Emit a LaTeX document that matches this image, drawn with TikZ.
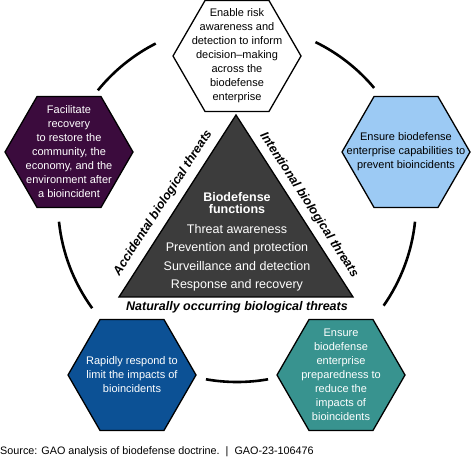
\documentclass[tikz,border=0pt]{standalone}
\usepackage{fontspec}
\setmainfont{Liberation Sans}
\usepackage{xcolor}
\usetikzlibrary{shapes.geometric, positioning}

\definecolor{tim}{HTML}{3B0B3D}
\definecolor{xanhnhat}{HTML}{9CCAF4}
\definecolor{xanhdam}{HTML}{0C5195}
\definecolor{xanhngoc}{HTML}{38938F}
\definecolor{xam}{HTML}{3C3C3C}

\begin{document}
\begin{tikzpicture}[x=1pt, y=1pt,
    hexa/.style={draw, line width=1.3pt, regular polygon, regular polygon sides=6,
        minimum size=128pt, inner sep=0pt},
    hextext/.style={align=center, font=\fontsize{11}{14}\selectfont},
    threat/.style={font=\fontsize{12.5}{15}\selectfont\bfseries\itshape},
    func/.style={text=white, font=\fontsize{12.5}{15}\selectfont}]
    \useasboundingbox (0,0) rectangle (474,458);

    % Vẽ vòng tròn
    \coordinate (tam) at (237,255);
    \foreach \a/\b in {40/64, 117/141, 186/216, 260/280, -35/-6} {
        \draw[line width=2.6pt] ([shift={(\a:179)}]tam) arc (\a:\b:179);
    }

    % Vẽ các lục giác
    \node[hexa, fill=white] (nhanthuc) at (237,402) {};
    \node[hextext] at (nhanthuc) {Enable risk\\awareness and\\detection to inform\\decision--making\\across the\\biodefense\\enterprise};
    \node[hexa, fill=tim] (phuchoi) at (69,306) {};
    \node[hextext, text=white] at (phuchoi) {Facilitate\\recovery\\to restore the\\community, the\\economy, and the\\environment after\\a bioincident};
    \node[hexa, fill=xanhnhat] (ngannua) at (406,306) {};
    \node[hextext] at (ngannua) {Ensure biodefense\\enterprise capabilities to\\prevent bioincidents};
    \node[hexa, fill=xanhdam] (ungpho) at (132,83) {};
    \node[hextext, text=white] at (ungpho) {Rapidly respond to\\limit the impacts of\\bioincidents};
    \node[hexa, fill=xanhngoc] (sansang) at (341,83) {};
    \node[hextext, text=white] at (sansang) {Ensure\\biodefense\\enterprise\\preparedness to\\reduce the\\impacts of\\bioincidents};

    % Vẽ tam giác
    \coordinate (dinh) at (236,343);
    \coordinate (trai) at (119,161);
    \coordinate (phai) at (353,161);
    \draw[fill=xam, line width=1.3pt] (dinh) -- (trai) -- (phai) -- cycle;
    \node[func, font=\fontsize{12.5}{12.5}\selectfont\bfseries, align=center] (tieude) at (237,255) {Biodefense\\functions};
    \node[func] (f1) at (237,229) {Threat awareness};
    \node[func] (f2) at (237,210) {Prevention and protection};
    \node[func] (f3) at (237,192) {Surveillance and detection};
    \node[func] (f4) at (237,173) {Response and recovery};

    % Nhãn các cạnh
    \node[threat, rotate=57] (tainan) at (163,255) {Accidental biological threats};
    \node[threat, rotate=-57] (cotinh) at (309,253) {Intentional biological threats};
    \node[threat] (tunhien) at (237,151) {Naturally occurring biological threats};

    % Nguồn
    \node[anchor=west, inner sep=0pt, font=\fontsize{10.8}{13}\selectfont] (nguon) at (0,6)
        {Source: GAO analysis of biodefense doctrine.\ \ |\ \ GAO-23-106476};
\end{tikzpicture}
\end{document}
